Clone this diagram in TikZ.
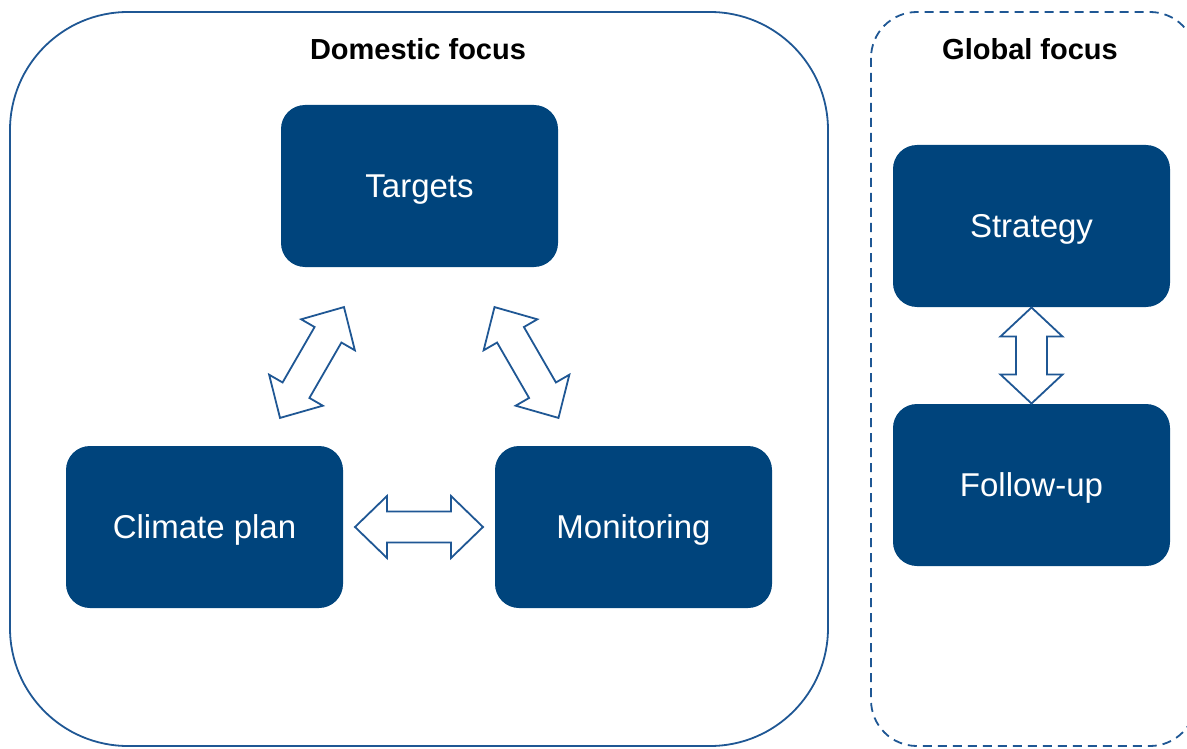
\documentclass[tikz,border=0pt]{standalone}
\usepackage{fontspec}
\setmainfont{Liberation Sans}
\usetikzlibrary{calc}

\definecolor{boxblue}{HTML}{00447C}
\definecolor{lineblue}{HTML}{1F5794}

\tikzset{
  block/.style={fill=boxblue, rounded corners=24pt, minimum width=277pt,
    minimum height=162pt, inner sep=0pt, text=white,
    font=\fontsize{33}{38}\selectfont, text height=23.6pt, text depth=0pt},
  frame/.style={draw=lineblue, line width=1.8pt},
  dashframe/.style={draw=lineblue, line width=1.8pt, dash pattern=on 9pt off 6pt},
  heading/.style={font=\fontsize{29}{34}\selectfont\bfseries, anchor=base},
  blockarrow/.style={draw=lineblue, line width=1.8pt, fill=white, line join=miter},
}

% hollow double-headed block arrow: half length #2, head length #3
\newcommand\hollowarrow[3][]{%
  \draw[blockarrow,#1] (-#2,0) -- (-#2+#3,-31) -- (-#2+#3,-15.5) -- (#2-#3,-15.5)
    -- (#2-#3,-31) -- (#2,0) -- (#2-#3,31) -- (#2-#3,15.5) -- (-#2+#3,15.5)
    -- (-#2+#3,31) -- cycle;}

\begin{document}
\begin{tikzpicture}[x=1pt, y=-1pt]
  \useasboundingbox (0,0) rectangle (1187,749);
  \clip (0,0) rectangle (1187,749);

  % outer groups
  \draw[frame, rounded corners=118pt] (10,12) rectangle (828,746);
  \draw[dashframe, rounded corners=46pt] (871,12) rectangle (1196,746);

  \node[heading] (domtitle) at (418,60) {Domestic focus};
  \node[heading] (globtitle) at (1030,60) {Global focus};

  % blocks
  \node[block] (targets) at (419.5,186) {Targets};
  \node[block] (climate) at (204.5,527) {Climate plan};
  \node[block] (monitor) at (633.5,527) {Monitoring};
  \node[block] (strategy) at (1031.5,226) {Strategy};
  \node[block] (followup) at (1031.5,485) {Follow-up};

  % links between blocks
  \coordinate (mcl) at ($(climate.east)!0.5!(monitor.west)$);
  \coordinate (mtc) at ($($(targets.center)!0.5!(climate.center)$)+(0,6)$);
  \coordinate (mtm) at ($($(targets.center)!0.5!(monitor.center)$)+(0,6)$);
  \coordinate (msf) at ($(strategy.south)!0.5!(followup.north)$);

  \begin{scope}[shift={(mcl)}]\hollowarrow{64}{32}\end{scope}
  \begin{scope}[shift={(mtc)}, rotate=60]\hollowarrow{64}{32}\end{scope}
  \begin{scope}[shift={(mtm)}, rotate=-60]\hollowarrow{64}{32}\end{scope}
  \begin{scope}[shift={(msf)}, rotate=90]\hollowarrow{48}{29}\end{scope}
\end{tikzpicture}
\end{document}
